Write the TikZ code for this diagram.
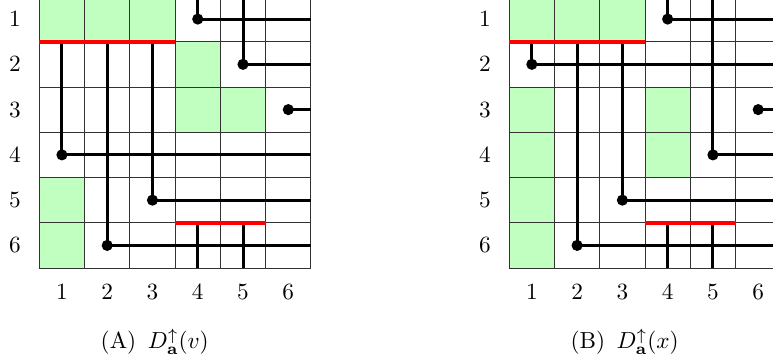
\documentclass[tikz,border=0pt]{standalone}
\usepackage{amsmath,amssymb}
\usetikzlibrary{calc}
\definecolor{cellgreen}{RGB}{192,255,192}
\definecolor{cutred}{RGB}{255,0,0}
\tikzset{
  gridline/.style={line width=0.4pt,color=black!80},
  trackline/.style={line width=1.3pt,color=black},
  cutline/.style={line width=1.8pt,color=cutred},
  trackdot/.style={fill=black},
  lab/.style={inner sep=1pt},
}

\begin{document}
\begin{tikzpicture}[x=0.684cm,y=0.684cm]
\clip(-0.868,-8.075)rectangle(16.207,-0.079);
% shaded cells, left and right panel
\foreach \c/\r in {1/1,2/1,3/1,4/2,4/3,5/3,1/5,1/6}
  \fill[cellgreen](\c-1,1-\r)rectangle++(1,-1);
\foreach \c/\r in {1/1,2/1,3/1,1/3,4/3,1/4,4/4,1/5,1/6}
  \fill[cellgreen,shift={(10.38,0)}](\c-1,1-\r)rectangle++(1,-1);
\foreach \p/\dx/\arg/\ra/\rb in {A/0/v/4/2,B/10.38/x/2/4}{
\begin{scope}[shift={(\dx,0)}]
  \foreach \k in {0,...,6}{
    \draw[gridline](\k,-6)--(\k,0);
    \draw[gridline](0,-\k)--(6,-\k);}
  % tracks: column / start / row of the dot
  \foreach \c/\y/\r in {4/0.5/1,5/0.5/\rb,6/-2.5/3,1/-1/\ra,2/-1/6,3/-1/5}{
    \draw[trackline](\c-0.5,\y)--(\c-0.5,0.5-\r)--(6,0.5-\r);
    \fill[trackdot](\c-0.5,0.5-\r)circle(2.4pt);}
  \draw[trackline](3.5,-5)--(3.5,-6);
  \draw[trackline](4.5,-5)--(4.5,-6);
  \draw[cutline](0,-1)--(3,-1);
  \draw[cutline](3,-5)--(5,-5);
  \foreach \k in {1,...,6}{
    \node[lab](row\p\k)at(-0.537,0.5-\k){$\k$};
    \node[lab](col\p\k)at(\k-0.5,-6.53){$\k$};}
  \node[lab](cap\p)at(2.55,-7.63){(\p)\enspace$D^{\uparrow}_{\mathbf{a}}(\arg)$};
\end{scope}}
\end{tikzpicture}
\end{document}
